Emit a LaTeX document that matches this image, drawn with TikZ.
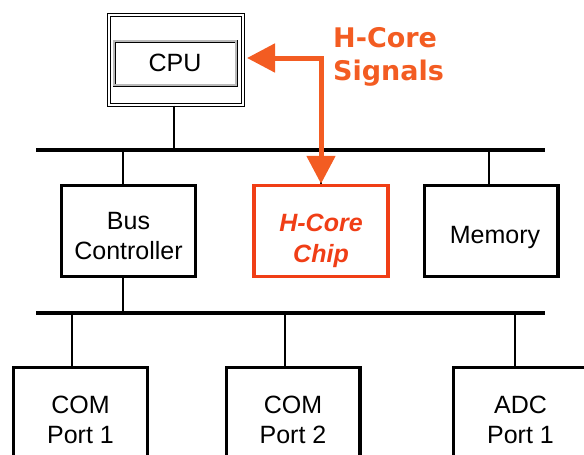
\documentclass[tikz,border=0pt]{standalone}
\usepackage{fontspec}
\setmainfont{Liberation Sans}
\newfontfamily\sigfont{DejaVu Sans}
\usetikzlibrary{arrows.meta}
\definecolor{hcorange}{RGB}{243,92,34}
\definecolor{hcred}{RGB}{240,62,22}
\newcommand{\lift}[1]{\rule{0pt}{#1}}
\begin{document}
\begin{tikzpicture}[x=1pt, y=-1pt,
    unit/.style={draw, line width=3.2pt, minimum width=133.8pt, minimum height=90.8pt,
      inner sep=0pt, align=center, font=\fontsize{25}{30}\selectfont},
    bus/.style={line width=4.6pt},
    stem/.style={line width=1.4pt},
    sigtip/.tip={Triangle[length=28pt, width=28pt]}]
      \clip (0,0) rectangle (584,455);
      \coordinate (T_L) at (36,150);
      \coordinate (T_R) at (545,150);
      \coordinate (L_L) at (36,313);
      \coordinate (L_R) at (545,313);
      \coordinate (SIG_end) at (247,58);
      \node[draw, line width=0.9pt, double, double distance=2pt, inner sep=0pt,
        minimum width=134.2pt, minimum height=90.2pt] (CPU_box) at (176,60) {};
      \node[draw, line width=0.8pt, double=gray!55, double distance=1.4pt, inner sep=0pt,
        minimum width=122pt, minimum height=44pt, font=\fontsize{25}{30}\selectfont] (CPU) at (175,63) {CPU};
      \node[unit] (BC) at (128.5,231) {\lift{28pt}Bus\\Controller};
      \node[unit, line width=3.6pt, draw=hcred, text=hcred,
        font=\fontsize{25}{31}\selectfont\bfseries\itshape] (HC) at (321,231) {\lift{38pt}H-Core\\Chip};
      \node[unit] (MEM) at (491,231) {\lift{30pt}\hspace{8pt}Memory};
      \node[unit] (COM_1) at (80.5,413) {\lift{32pt}COM\\Port 1};
      \node[unit] (COM_2) at (293,413) {\lift{32pt}COM\\Port 2};
      \node[unit] (ADC) at (520.5,413) {\lift{32pt}ADC\\Port 1};
      \draw[stem] (CPU_box.south) ++(-2,0) coordinate (cpu_s) -- (cpu_s |- T_L);
      \draw[stem] (BC.north) ++(-5.5,0) coordinate (bc_n) -- (bc_n |- T_L);
      \draw[stem] (BC.south) ++(-5.5,0) coordinate (bc_s) -- (bc_s |- L_L);
      \draw[stem] (HC.north) -- (HC.north |- T_L);
      \draw[stem] (MEM.north) ++(-2,0) coordinate (mem_n) -- (mem_n |- T_L);
      \draw[stem] (COM_1.north) ++(-8.5,0) coordinate (com1_n) -- (com1_n |- L_L);
      \draw[stem] (COM_2.north) ++(-8,0) coordinate (com2_n) -- (com2_n |- L_L);
      \draw[stem] (ADC.north) ++(-5.5,0) coordinate (adc_n) -- (adc_n |- L_L);
      \draw[bus] (T_L) -- (T_R);
      \draw[bus] (L_L) -- (L_R);
      \draw[hcorange, line width=5pt, sigtip-sigtip] (SIG_end) -| (HC.north);
      \node[anchor=base west, inner sep=0pt, text=hcorange, align=left,
        font=\sigfont\bfseries\fontsize{27}{33}\selectfont] (SIG) at (333,80) {H-Core\\Signals};
    \end{tikzpicture}
\end{document}
